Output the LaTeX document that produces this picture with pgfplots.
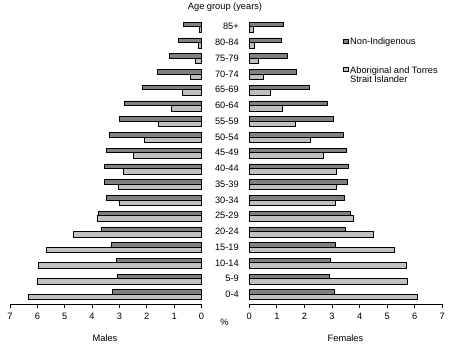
\documentclass[border=0pt]{standalone}
\usepackage{fontspec}
\setmainfont{Liberation Sans}
\usepackage{pgfplots}
\pgfplotsset{compat=1.18}
\usepackage{pgfplotstable}
\definecolor{darkbar}{RGB}{128,128,128}
\definecolor{lightbar}{RGB}{192,192,192}
\newcommand{\chartfont}{\fontsize{9.3}{10.5}\selectfont}
\newcommand{\legfont}{\fontsize{9.3}{9.6}\selectfont}
% idx: 0 = 0-4 ... 17 = 85+
\pgfplotstableread{
idx mnon mind fnon find
0  3.26 6.34 3.10 6.11
1  3.08 6.00 2.92 5.73
2  3.11 5.96 2.95 5.70
3  3.30 5.67 3.13 5.26
4  3.66 4.69 3.49 4.50
5  3.77 3.81 3.67 3.78
6  3.48 3.00 3.45 3.13
7  3.55 3.04 3.56 3.16
8  3.55 2.86 3.60 3.16
9  3.48 2.49 3.53 2.69
10 3.37 2.09 3.42 2.22
11 3.00 1.56 3.05 1.68
12 2.82 1.10 2.83 1.21
13 2.16 0.70 2.18 0.77
14 1.61 0.40 1.71 0.51
15 1.17 0.22 1.39 0.34
16 0.86 0.11 1.17 0.18
17 0.66 0.07 1.25 0.15
}\pyrdata
\begin{document}
\begin{tikzpicture}[x=1bp,y=1bp]
\path[use as bounding box] (0,0) rectangle (458,354);
\pgfplotsset{
  pyr/.style={
    scale only axis, height=287bp,
    ymin=-0.635, ymax=17.6, xmin=0, xmax=7,
    xbar,
    axis x line*=bottom, axis y line*=left,
    y axis line style={draw=none},
    ytick style={draw=none},
    xtick={0,1,...,7},
    tick align=outside,
    major tick length=4bp,
    x axis line style={line width=0.8bp, -},
    xtick style={line width=0.8bp, black},
    tick label style={font=\chartfont},
    /pgf/number format/assume math mode=true,
    xticklabel style={yshift=-1bp},
    clip=false,
  },
  nonind/.style={draw=black, line width=0.7bp, fill=darkbar, bar width=4.5bp, bar shift=2.25bp},
  ind/.style={draw=black, line width=0.7bp, fill=lightbar, bar width=5.5bp, bar shift=-2.75bp},
}
% Males (left)
\begin{axis}[pyr, at={(10bp,49.7bp)}, anchor=south west, width=191.5bp,
  x dir=reverse, ytick=\empty]
\addplot[nonind] table[x=mnon, y=idx] {\pyrdata};
\addplot[ind] table[x=mind, y=idx] {\pyrdata};
\end{axis}
% Females (right)
\begin{axis}[pyr, at={(249.3bp,49.7bp)}, anchor=south west, width=193bp,
  ytick={0,1,...,17},
  yticklabels={0-4,5-9,10-14,15-19,20-24,25-29,30-34,35-39,40-44,45-49,50-54,55-59,60-64,65-69,70-74,75-79,80-84,85+},
  yticklabel style={anchor=east, xshift=-3bp},
  legend style={draw=none, fill=none, at={(0.485,0.935)}, anchor=north west,
    font=\legfont, row sep=16bp, inner sep=0pt,
    cells={anchor=west}},
  legend image code/.code={\draw[#1, line width=0.6bp] (0bp,-1.2bp) rectangle (4.5bp,3.2bp);},
]
\addplot[nonind] table[x=fnon, y=idx] {\pyrdata};
\addplot[ind] table[x=find, y=idx] {\pyrdata};
\legend{Non-Indigenous, {\vtop{\hbox{Aboriginal and Torres}\hbox{Strait Islander}}}}
\end{axis}
\node[font=\chartfont] at (225,346.5) {Age group (years)};
\node[font=\chartfont] at (224.5,31.5) {\%};
\node[font=\chartfont] at (105,15.5) {Males};
\node[font=\chartfont] at (345.5,15.5) {Females};
\end{tikzpicture}
\end{document}
